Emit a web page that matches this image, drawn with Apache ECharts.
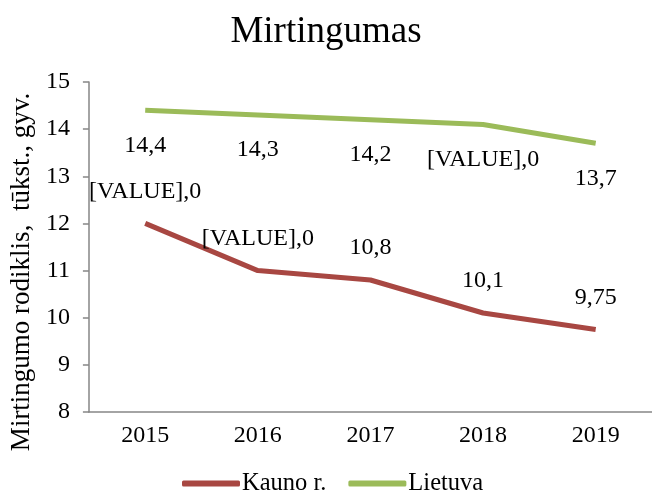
<!DOCTYPE html>
<html><head><meta charset="utf-8">
<script src="https://cdn.jsdelivr.net/npm/echarts@6/dist/echarts.min.js"></script>
<style>html,body{margin:0;padding:0;background:#fff}#c{width:652px;height:501px}</style>
</head><body><div id="c"></div>
<script>
const categories = ['2015','2016','2017','2018','2019'];
const kaunoValues = [12, 11, 10.8, 10.1, 9.75];
const lietuvaValues = [14.4, 14.3, 14.2, 14.1, 13.7];
const kaunoLabels = ['[VALUE],0','[VALUE],0','10,8','10,1','9,75'];
const lietuvaLabels = ['14,4','14,3','14,2','[VALUE],0','13,7'];
const yTicks = [8,9,10,11,12,13,14,15];

const font = '"Liberation Serif","Times New Roman",serif';
const red = '#A84742', green = '#9BBB59', clear = 'rgba(0,0,0,0)';
const chart = echarts.init(document.getElementById('c'));
chart.setOption({
  animation: false,
  textStyle: {fontFamily: font, color: '#000'},
  title: {text: 'Mirtingumas', left: 'center', top: 9,
    textStyle: {fontFamily: font, fontSize: 37, fontWeight: 'normal', color: '#000'}},
  grid: {left: 88, top: 82, width: 570, height: 330},
  legend: {bottom: 0, left: 177, icon: 'roundRect', itemWidth: 58, itemHeight: 6, itemGap: 22,
    textStyle: {fontFamily: font, fontSize: 24.5, color: '#000', padding: [0,0,0,-3]},
    data: [{name: 'Kauno r.', itemStyle: {color: red, opacity: 1}},
           {name: 'Lietuva', itemStyle: {color: green, opacity: 1}}]},
  xAxis: {type: 'category', data: categories, boundaryGap: true,
    axisLine: {lineStyle: {color: '#868686', width: 1.5}},
    axisTick: {alignWithLabel: true, length: 6, lineStyle: {color: '#868686', width: 1.5}},
    axisLabel: {fontFamily: font, fontSize: 24, color: '#000', margin: 12}},
  yAxis: {type: 'value', min: 8, max: 15, interval: 1,
    name: 'Mirtingumo rodiklis,  tūkst., gyv.', nameLocation: 'middle', nameGap: 52,
    nameTextStyle: {fontFamily: font, fontSize: 27, color: '#000', padding: [0, 50, 0, 0]},
    axisLine: {show: true, lineStyle: {color: '#868686', width: 1.5}},
    axisTick: {show: true, length: 6, lineStyle: {color: '#868686', width: 1.5}},
    splitLine: {show: false},
    axisLabel: {fontFamily: font, fontSize: 24, color: '#000', margin: 19,
      formatter: v => yTicks.includes(v) ? String(v) : ''}},
  series: [
    {name: 'Kauno r.', type: 'line', data: kaunoValues, symbol: 'circle', symbolSize: 2, showSymbol: true,
      itemStyle: {color: clear, borderWidth: 0},
      lineStyle: {width: 5, color: red},
      label: {show: true, position: 'top', distance: 19, fontFamily: font, fontSize: 24, color: '#000',
        formatter: p => kaunoLabels[p.dataIndex]}},
    {name: 'Lietuva', type: 'line', data: lietuvaValues, symbol: 'circle', symbolSize: 2, showSymbol: true,
      itemStyle: {color: clear, borderWidth: 0},
      lineStyle: {width: 5, color: green},
      label: {show: true, position: 'bottom', distance: 22, fontFamily: font, fontSize: 24, color: '#000',
        formatter: p => lietuvaLabels[p.dataIndex]}}
  ]
});
</script></body></html>
